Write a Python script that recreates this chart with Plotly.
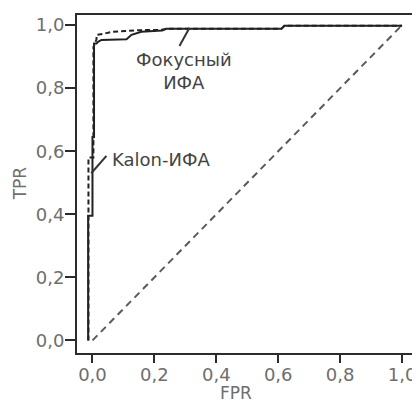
import plotly.graph_objects as go

# Фокусный ИФА (solid ROC)
focus_fpr = [-0.014, -0.014, 0.0, 0.0, 0.005, 0.005, 0.013, 0.018, 0.029, 0.11, 0.126, 0.158, 0.225, 0.238, 0.61, 0.62, 1.0]
focus_tpr = [0.0, 0.395, 0.395, 0.645, 0.645, 0.942, 0.942, 0.947, 0.953, 0.955, 0.969, 0.979, 0.983, 0.988, 0.988, 0.998, 0.998]

# Kalon-ИФА (dashed ROC)
kalon_fpr = [-0.013, -0.013, 0.003, 0.003, 0.013, 0.013, 0.033, 0.066, 0.158, 0.225, 0.238, 0.61, 0.62, 1.0]
kalon_tpr = [0.0, 0.58, 0.58, 0.93, 0.955, 0.969, 0.972, 0.979, 0.984, 0.985, 0.988, 0.988, 0.998, 0.998]

# chance diagonal
diag_fpr = [0.0, 1.0]
diag_tpr = [0.0, 1.0]

x_ticks = [0.0, 0.2, 0.4, 0.6, 0.8, 1.0]
x_ticktext = ["0,0", "0,2", "0,4", "0,6", "0,8", "1,0"]
y_ticks = [0.0, 0.2, 0.4, 0.6, 0.8, 1.0]
y_ticktext = ["0,0", "0,2", "0,4", "0,6", "0,8", "1,0"]

FONT = "DejaVu Sans"
GRAY = "#6e6e6e"
AX = "#2b2b2b"

fig = go.Figure()
fig.add_trace(go.Scatter(x=diag_fpr, y=diag_tpr, mode="lines",
                         line=dict(color="#5a5a5a", width=2, dash="7px,5px"),
                         showlegend=False, hoverinfo="skip"))
fig.add_trace(go.Scatter(x=kalon_fpr, y=kalon_tpr, mode="lines",
                         line=dict(color="#222", width=2, dash="5px,3px"),
                         showlegend=False, name="Kalon-ИФА"))
fig.add_trace(go.Scatter(x=focus_fpr, y=focus_tpr, mode="lines",
                         line=dict(color="#222", width=2),
                         showlegend=False, name="Фокусный ИФА"))

# leader lines
fig.add_shape(type="line", x0=0.281, y0=0.934, x1=0.313, y1=0.991,
              line=dict(color="#333", width=2))
fig.add_shape(type="line", x0=-0.004, y0=0.53, x1=0.045, y1=0.585,
              line=dict(color="#333", width=2))

fig.add_annotation(x=0.295, y=0.855, text="Фокусный<br>ИФА", showarrow=False,
                   font=dict(family=FONT, size=18, color="#444"), align="center",
                   xanchor="center", yanchor="middle")
fig.add_annotation(x=0.056, y=0.575, text="Kalon-ИФА", showarrow=False, xanchor="left",
                   yanchor="middle", font=dict(family=FONT, size=18, color="#444"))

# axis titles
fig.add_annotation(xref="paper", yref="paper", x=0.469, y=-0.118, text="FPR",
                   xanchor="center", yanchor="middle",
                   showarrow=False, font=dict(family=FONT, size=17, color=GRAY))
fig.add_annotation(xref="paper", yref="paper", x=-0.167, y=0.503, text="TPR", textangle=-90,
                   xanchor="center", yanchor="middle",
                   showarrow=False, font=dict(family=FONT, size=17, color=GRAY))

fig.update_layout(
    width=412, height=397,
    margin=dict(l=69, r=2, t=7, b=52),
    paper_bgcolor="white", plot_bgcolor="white",
    font=dict(family=FONT, size=17, color=GRAY),
    xaxis=dict(range=[-0.05, 1.045], tickvals=x_ticks, ticktext=x_ticktext,
               showgrid=False, zeroline=False, showline=True, linecolor=AX, linewidth=2,
               mirror=True, ticks="outside", ticklen=8, tickwidth=2, tickcolor=AX,
               ticklabelstandoff=-4,
               tickfont=dict(family=FONT, size=18, color=GRAY)),
    yaxis=dict(range=[-0.04, 1.032], tickvals=y_ticks, ticktext=y_ticktext,
               showgrid=False, zeroline=False, showline=True, linecolor=AX, linewidth=2,
               mirror=True, ticks="outside", ticklen=10, tickwidth=2, tickcolor=AX,
               ticklabelstandoff=-3,
               tickfont=dict(family=FONT, size=18, color=GRAY)),
)

fig.write_html("out.html")
